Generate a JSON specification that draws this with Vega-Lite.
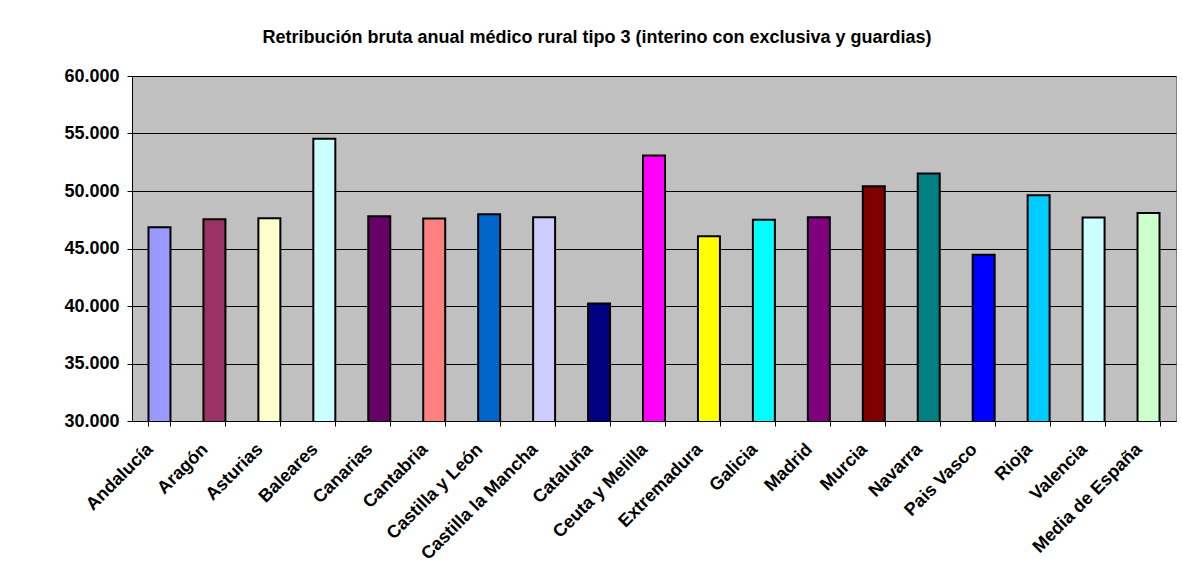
{
  "$schema": "https://vega.github.io/schema/vega-lite/v6.json",
  "autosize": "none",
  "width": 1044,
  "height": 345,
  "padding": {"left": 132, "top": 76, "right": 6, "bottom": 144},
  "background": "white",
  "config": {
    "view": {"fill": "#C0C0C0", "stroke": "#808080", "strokeWidth": 1},
    "axis": {
      "labelFont": "Liberation Sans",
      "labelFontWeight": "bold",
      "labelColor": "black",
      "domainColor": "black",
      "tickColor": "black",
      "title": null
    },
    "title": {
      "font": "Liberation Sans",
      "fontSize": 18,
      "fontWeight": "bold",
      "color": "black",
      "anchor": "middle",
      "dx": -57,
      "offset": 20
    }
  },
  "title": "Retribución bruta anual médico rural tipo 3 (interino con exclusiva y guardias)",
  "data": {
    "values": [
      {"region": "Andalucía", "retribucion": 46840},
      {"region": "Aragón", "retribucion": 47540},
      {"region": "Asturias", "retribucion": 47630},
      {"region": "Baleares", "retribucion": 54540},
      {"region": "Canarias", "retribucion": 47800},
      {"region": "Cantabria", "retribucion": 47600},
      {"region": "Castilla y León", "retribucion": 47980},
      {"region": "Castilla la Mancha", "retribucion": 47710},
      {"region": "Cataluña", "retribucion": 40220},
      {"region": "Ceuta y Melilla", "retribucion": 53090},
      {"region": "Extremadura", "retribucion": 46060},
      {"region": "Galicia", "retribucion": 47510},
      {"region": "Madrid", "retribucion": 47710},
      {"region": "Murcia", "retribucion": 50420},
      {"region": "Navarra", "retribucion": 51520},
      {"region": "Pais Vasco", "retribucion": 44460},
      {"region": "Rioja", "retribucion": 49630},
      {"region": "Valencia", "retribucion": 47690},
      {"region": "Media de España", "retribucion": 48090}
    ]
  },
  "mark": {"type": "bar", "stroke": "black", "strokeWidth": 2, "clip": true},
  "encoding": {
    "x": {
      "field": "region",
      "type": "nominal",
      "sort": null,
      "scale": {"paddingInner": 0.6, "paddingOuter": 0.3},
      "axis": {
        "labelAngle": -45,
        "labelFontSize": 18,
        "labelPadding": 14,
        "labelOffset": -16,
        "tickBand": "extent",
        "tickSize": 5,
        "labelOverlap": false
      }
    },
    "y": {
      "field": "retribucion",
      "type": "quantitative",
      "scale": {"domain": [30000, 60000], "zero": false, "nice": false},
      "axis": {
        "values": [30000, 35000, 40000, 45000, 50000, 55000, 60000],
        "labelExpr": "replace(format(datum.value, ','), ',', '.')",
        "labelFontSize": 18,
        "labelPadding": 8,
        "tickSize": 5,
        "grid": true,
        "gridColor": "black",
        "gridOpacity": 1,
        "gridWidth": 1
      }
    },
    "color": {
      "field": "region",
      "type": "nominal",
      "legend": null,
      "scale": {
        "domain": ["Andalucía", "Aragón", "Asturias", "Baleares", "Canarias", "Cantabria", "Castilla y León", "Castilla la Mancha", "Cataluña", "Ceuta y Melilla", "Extremadura", "Galicia", "Madrid", "Murcia", "Navarra", "Pais Vasco", "Rioja", "Valencia", "Media de España"],
        "range": ["#9999FF", "#993366", "#FFFFCC", "#CCFFFF", "#660066", "#FF8080", "#0066CC", "#CCCCFF", "#000080", "#FF00FF", "#FFFF00", "#00FFFF", "#800080", "#800000", "#008080", "#0000FF", "#00CCFF", "#CCFFFF", "#CCFFCC"]
      }
    }
  }
}
